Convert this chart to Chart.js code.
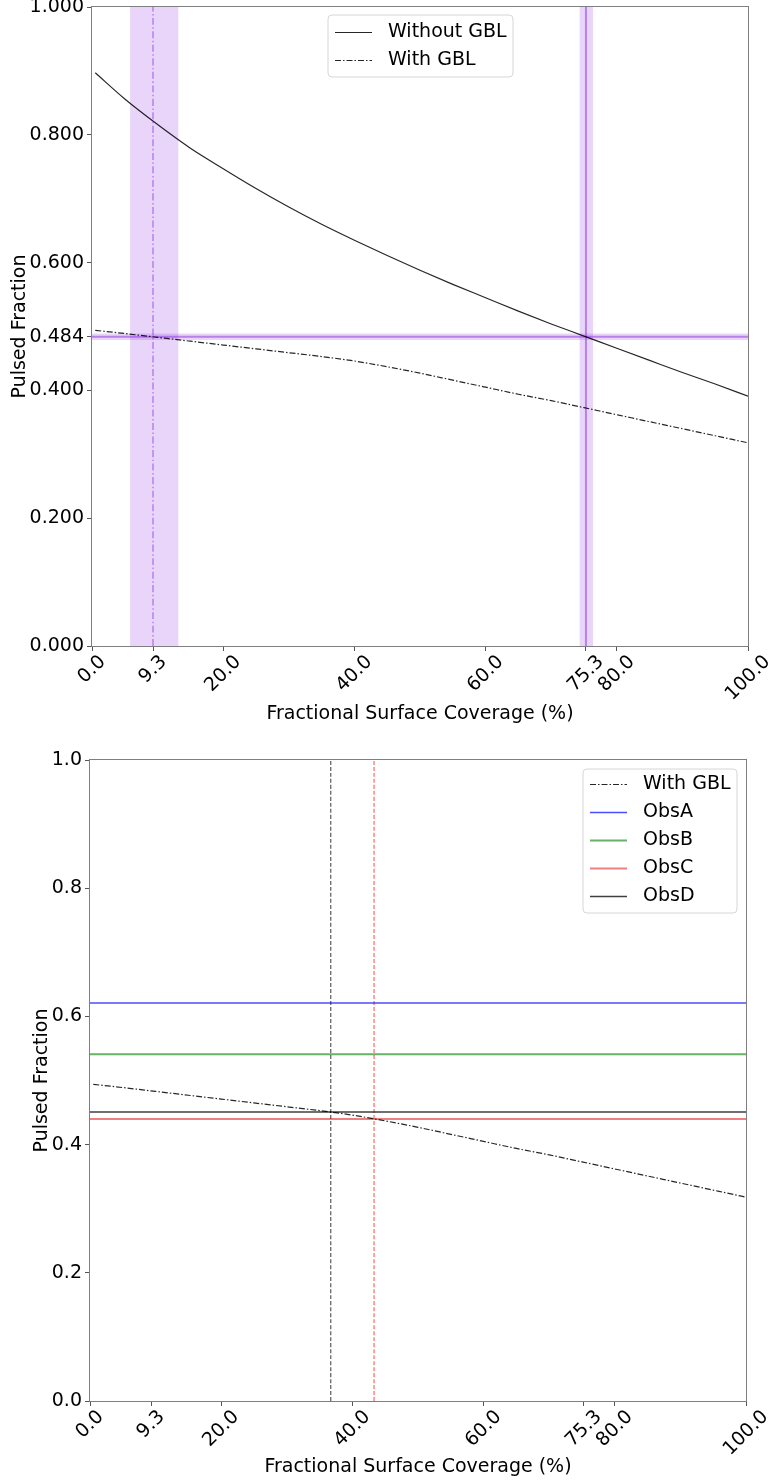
<!DOCTYPE html>
<html>
<head>
<meta charset="utf-8">
<script src="https://cdn.jsdelivr.net/npm/chart.js@4.4.0/dist/chart.umd.min.js"></script>
<style>
  body { margin: 0; background: #fff; }
  canvas { display: block; }
</style>
</head>
<body>
<canvas id="top-chart" width="771" height="740"></canvas>
<canvas id="bottom-chart" width="771" height="743"></canvas>
<script>
// model curves
var coverage   = [0.5, 5, 10, 15, 20, 25, 30, 35, 40, 45, 50, 55, 60, 65, 70, 75, 80, 85, 90, 95, 100];
var withoutGbl = [0.897, 0.856, 0.816, 0.779, 0.747, 0.716, 0.687, 0.660, 0.635, 0.611, 0.588,
                  0.566, 0.545, 0.524, 0.504, 0.485, 0.466, 0.447, 0.428, 0.410, 0.391];
var withGbl    = [0.494, 0.489, 0.483, 0.477, 0.471, 0.465, 0.459, 0.453, 0.446, 0.437, 0.427,
                  0.416, 0.405, 0.394, 0.384, 0.373, 0.362, 0.351, 0.340, 0.329, 0.318];

var xTicks = [0, 9.3, 20, 40, 60, 75.3, 80, 100];
var yTicksTop = [0, 0.2, 0.4, 0.484, 0.6, 0.8, 1.0];
var yTicksBottom = [0, 0.2, 0.4, 0.6, 0.8, 1.0];

// top panel markers
var observedFraction = 0.484;
var fractionBand = [0.479, 0.489];
var coverageWith = 9.3;
var bandWith = [5.8, 13.2];
var coverageWithout = 75.3;
var bandWithout = [74.3, 76.4];

// bottom panel markers
var obsNames = ['ObsA', 'ObsB', 'ObsC', 'ObsD'];
var obsValues = [0.621, 0.541, 0.440, 0.451];
var crossCoverage = [36.7, 43.3];

var obsColors = ['rgba(0,0,255,0.7)', 'rgba(0,128,0,0.6)', 'rgba(230,0,0,0.5)', 'rgba(0,0,0,0.75)'];
var obsWidths = [1.5, 2, 2, 1.5];
var crossColors = ['rgba(0,0,0,0.65)', 'rgba(255,0,0,0.6)'];
var violet = 'rgba(138,43,226,0.5)';
var violetBand = 'rgba(138,43,226,0.2)';
var dashDot = [6, 2, 1.5, 2];

Chart.defaults.font.family = '"DejaVu Sans", sans-serif';
Chart.defaults.font.size = 19;
Chart.defaults.color = '#000';

function pts(xs, ys) {
  return xs.map(function (x, i) { return { x: x, y: ys[i] }; });
}
function vline(x) { return [{ x: x, y: 0 }, { x: x, y: 1 }]; }
function hline(y) { return [{ x: 0, y: y }, { x: 100, y: y }]; }

function lineSet(label, data, color, width, dash) {
  return {
    label: label, data: data, borderColor: color, backgroundColor: color,
    borderWidth: width, borderDash: dash || [], pointRadius: 0, fill: false,
    tension: 0.4, cubicInterpolationMode: 'monotone'
  };
}

// frame round the plot area, like matplotlib spines
var framePlugin = {
  id: 'frame',
  afterDatasetsDraw: function (chart) {
    var a = chart.chartArea, ctx = chart.ctx;
    ctx.save();
    ctx.strokeStyle = '#7f7f7f';
    ctx.lineWidth = 1;
    ctx.strokeRect(a.left - 0.5, a.top - 0.5, a.right - a.left + 1, a.bottom - a.top + 1);
    ctx.restore();
  }
};

// x tick labels rotated 45 deg, centred on the tick
var xLabelPlugin = {
  id: 'xLabels',
  afterDraw: function (chart) {
    var sc = chart.scales.x, ctx = chart.ctx;
    ctx.save();
    ctx.font = '19px "DejaVu Sans"';
    ctx.fillStyle = '#000';
    ctx.textAlign = 'center';
    ctx.textBaseline = 'middle';
    xTicks.forEach(function (v) {
      var t = v.toFixed(1);
      var w = ctx.measureText(t).width;
      var h = (w + 14) * Math.SQRT1_2;
      ctx.save();
      ctx.translate(sc.getPixelForValue(v), sc.top + 8 + h / 2);
      ctx.rotate(-Math.PI / 4);
      ctx.fillText(t, 0, 0);
      ctx.restore();
    });
    ctx.restore();
  }
};

// legend box drawn inside the plot
var boxLegend = {
  id: 'boxLegend',
  afterDraw: function (chart, args, opts) {
    var ctx = chart.ctx, b = opts.box, r = 4;
    ctx.save();
    ctx.beginPath();
    ctx.moveTo(b.x + r, b.y);
    ctx.arcTo(b.x + b.w, b.y, b.x + b.w, b.y + b.h, r);
    ctx.arcTo(b.x + b.w, b.y + b.h, b.x, b.y + b.h, r);
    ctx.arcTo(b.x, b.y + b.h, b.x, b.y, r);
    ctx.arcTo(b.x, b.y, b.x + b.w, b.y, r);
    ctx.closePath();
    ctx.fillStyle = 'rgba(255,255,255,0.8)';
    ctx.fill();
    ctx.strokeStyle = '#d6d6d6';
    ctx.lineWidth = 1;
    ctx.stroke();
    ctx.font = '19px "DejaVu Sans"';
    ctx.textBaseline = 'middle';
    ctx.fillStyle = '#000';
    opts.items.forEach(function (name, i) {
      var ds = chart.data.datasets.find(function (d) { return d.label === name; });
      var y = Math.round(b.y + opts.first + i * opts.step) + 0.5;
      ctx.beginPath();
      ctx.strokeStyle = ds.borderColor;
      ctx.lineWidth = ds.borderWidth;
      ctx.setLineDash(ds.borderDash || []);
      ctx.moveTo(b.x + 7, y);
      ctx.lineTo(b.x + 44, y);
      ctx.stroke();
      ctx.setLineDash([]);
      ctx.fillText(name, b.x + 60, y);
    });
    ctx.restore();
  }
};

function makeChart(id, datasets, cfg) {
  return new Chart(document.getElementById(id), {
    type: 'line',
    data: { datasets: datasets },
    plugins: [framePlugin, xLabelPlugin, boxLegend],
    options: {
      responsive: false,
      animation: false,
      devicePixelRatio: 1,
      layout: { padding: cfg.padding },
      plugins: {
        legend: { display: false },
        tooltip: { enabled: false },
        boxLegend: cfg.legend
      },
      scales: {
        x: {
          type: 'linear', min: 0, max: 100,
          afterBuildTicks: function (s) { s.ticks = xTicks.map(function (v) { return { value: v }; }); },
          afterFit: function (s) { s.height = cfg.xHeight; s.paddingLeft = 0; s.paddingRight = 0; },
          ticks: { display: false },
          grid: { drawOnChartArea: false, color: '#555', tickLength: 5 },
          border: { display: false },
          title: { display: true, text: 'Fractional Surface Coverage (%)', padding: { top: 0, bottom: cfg.xTitlePad } }
        },
        y: {
          type: 'linear', min: 0, max: 1,
          afterBuildTicks: function (s) { s.ticks = cfg.yTicks.map(function (v) { return { value: v }; }); },
          afterFit: function (s) { s.width = cfg.yWidth; s.paddingTop = 0; s.paddingBottom = 0; },
          ticks: { padding: 3, callback: function (v) { return Number(v).toFixed(cfg.yDigits); } },
          grid: { drawOnChartArea: false, color: '#555', tickLength: 5 },
          border: { display: false },
          title: { display: true, text: 'Pulsed Fraction', padding: { top: cfg.yTitlePad, bottom: 0 } }
        }
      }
    }
  });
}

// top panel
var horizBand = lineSet('band-h', hline(fractionBand[1]), violetBand, 0);
horizBand.fill = { value: fractionBand[0] };
var bandA = lineSet('band-a', [{ x: bandWith[0], y: 1 }, { x: bandWith[1], y: 1 }], violetBand, 0);
bandA.fill = 'origin';
var bandB = lineSet('band-b', [{ x: bandWithout[0], y: 1 }, { x: bandWithout[1], y: 1 }], violetBand, 0);
bandB.fill = 'origin';

makeChart('top-chart', [
  lineSet('Without GBL', pts(coverage, withoutGbl), 'rgba(0,0,0,0.85)', 1.2),
  lineSet('With GBL', pts(coverage, withGbl), 'rgba(0,0,0,0.85)', 1.2, dashDot),
  lineSet('pf', hline(observedFraction), violet, 2),
  lineSet('cov-with', vline(coverageWith), violet, 1.5, [7, 2.5, 1.5, 2.5]),
  lineSet('cov-without', vline(coverageWithout), violet, 2),
  horizBand, bandA, bandB
], {
  padding: { top: 7, right: 23, left: 0, bottom: 0 },
  xHeight: 94, yWidth: 92, xTitlePad: 15, yTitlePad: 9,
  yTicks: yTicksTop, yDigits: 3,
  legend: { box: { x: 328, y: 15, w: 185, h: 62 }, first: 16.5, step: 28.5, items: ['Without GBL', 'With GBL'] }
});

// bottom panel
var bottomSets = [lineSet('With GBL', pts(coverage, withGbl), 'rgba(0,0,0,0.85)', 1.2, dashDot)];
obsNames.forEach(function (n, i) {
  bottomSets.push(lineSet(n, hline(obsValues[i]), obsColors[i], obsWidths[i]));
});
crossCoverage.forEach(function (c, i) {
  bottomSets.push(lineSet('cross' + i, vline(c), crossColors[i], 1.2, [4, 2]));
});

makeChart('bottom-chart', bottomSets, {
  padding: { top: 20, right: 25, left: 0, bottom: 0 },
  xHeight: 82, yWidth: 90, xTitlePad: 5, yTitlePad: 31,
  yTicks: yTicksBottom, yDigits: 1,
  legend: { box: { x: 583, y: 29, w: 154, h: 144 }, first: 15, step: 27.9, items: ['With GBL'].concat(obsNames) }
});
</script>
</body>
</html>
